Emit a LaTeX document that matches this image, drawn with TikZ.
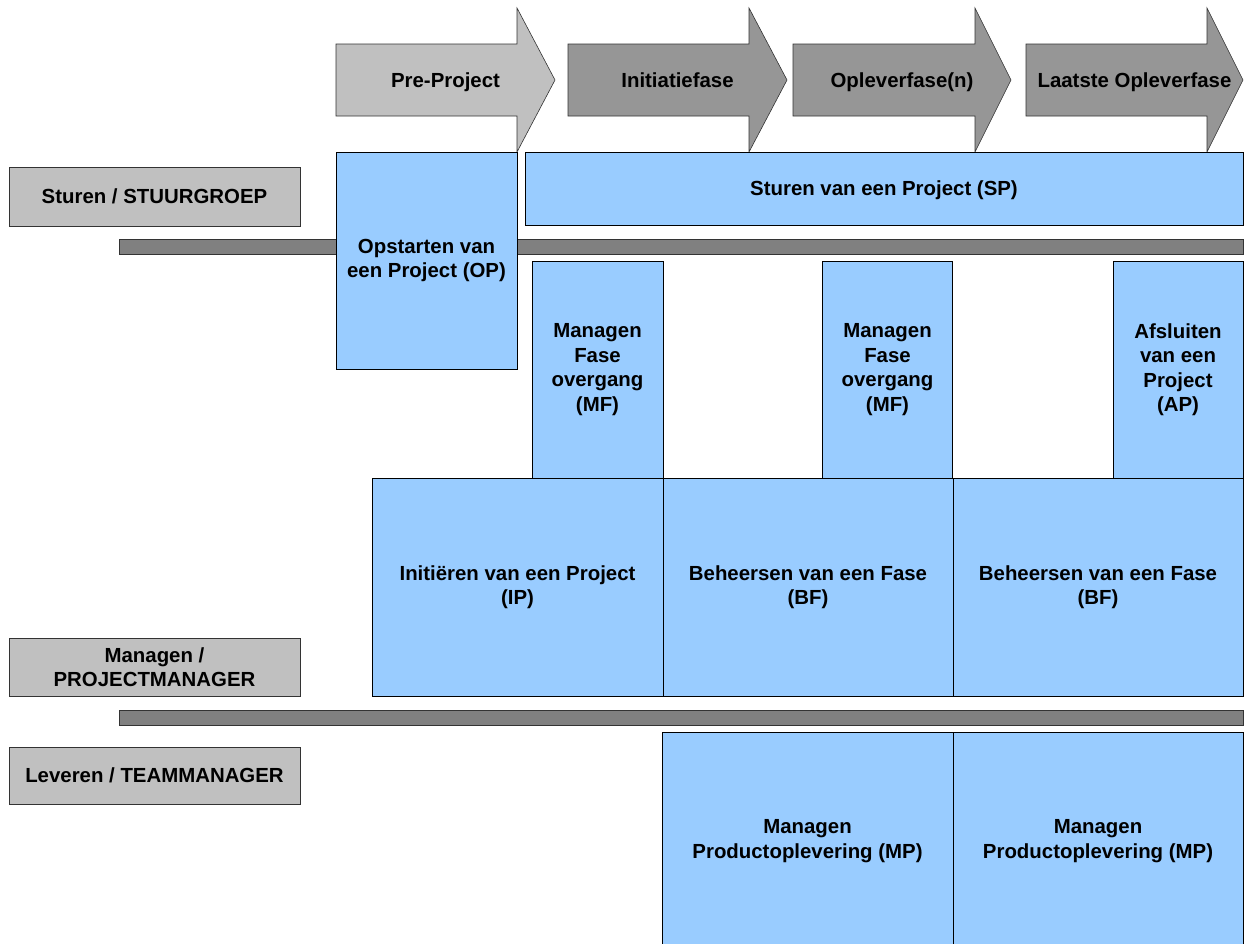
\documentclass[tikz,border=0pt]{standalone}
\usepackage{fontspec}
\setmainfont{Liberation Sans}
\definecolor{pblue}{HTML}{99CCFF}
\definecolor{lgray}{HTML}{C0C0C0}
\definecolor{dgray}{HTML}{969696}
\definecolor{bargray}{HTML}{808080}
\begin{document}
\begin{tikzpicture}[x=1pt,y=-1pt,
  txt/.style={font=\fontsize{20.4}{24.5}\selectfont\bfseries, align=center, inner sep=0pt},
  oneline/.style={text height=14.7pt, text depth=0pt},
  pbox/.style={draw=black, line width=0.6pt, fill=pblue, inner sep=0pt, txt},
  rolebox/.style={draw=black!80, line width=0.6pt, fill=lgray, inner sep=0pt, txt},
  barbox/.style={draw=black!80, line width=0.6pt, fill=bargray, inner sep=0pt},
  arr/.style={draw=black!80, line width=0.6pt}]
\useasboundingbox (0,0) rectangle (1244,943);
% phase arrows
\filldraw[arr, fill=lgray] (336,44) -- (517,44) -- (517,8) -- (555,80) -- (517,152) -- (517,116) -- (336,116) -- cycle;
\filldraw[arr, fill=dgray] (568,44) -- (749,44) -- (749,8) -- (787,80) -- (749,152) -- (749,116) -- (568,116) -- cycle;
\filldraw[arr, fill=dgray] (793,44) -- (975,44) -- (975,8) -- (1011,80) -- (975,152) -- (975,116) -- (793,116) -- cycle;
\filldraw[arr, fill=dgray] (1026,44) -- (1207,44) -- (1207,8) -- (1243,80) -- (1207,152) -- (1207,116) -- (1026,116) -- cycle;
\node[txt, oneline] (a1) at (445.5,80) {Pre-Project};
\node[txt, oneline] (a2) at (677.5,80) {Initiatiefase};
\node[txt, oneline] (a3) at (902,80) {Opleverfase(n)};
\node[txt, oneline] (a4) at (1134.5,80) {Laatste Opleverfase};
% bars
\node[barbox, minimum width=1124, minimum height=15] (bar1) at (681,246.5) {};
\node[barbox, minimum width=1124, minimum height=15] (bar2) at (681,717.5) {};
% role boxes
\node[rolebox, minimum width=291, minimum height=59] (r1) at (154.5,196.5) {Sturen / STUURGROEP};
\node[rolebox, minimum width=291, minimum height=58] (r2) at (154.5,667) {Managen /\\PROJECTMANAGER};
\node[rolebox, minimum width=291, minimum height=57] (r3) at (154.5,775.5) {Leveren / TEAMMANAGER};
% process boxes
\node[pbox, oneline, minimum width=718, minimum height=73] (sp) at (884,188.5) {Sturen van een Project (SP)};
\node[pbox, minimum width=181, minimum height=217] (op) at (426.5,260.5) {Opstarten van\\een Project (OP)};
\node[pbox, minimum width=131, minimum height=217] (mf1) at (597.5,369.5) {Managen\\Fase\\overgang\\(MF)};
\node[pbox, minimum width=130, minimum height=217] (mf2) at (887.5,369.5) {Managen\\Fase\\overgang\\(MF)};
\node[pbox, minimum width=130, minimum height=217] (ap) at (1178,369.5) {Afsluiten\\van een\\Project\\(AP)};
\node[pbox, minimum width=291, minimum height=218] (ip) at (517.5,587) {Initiëren van een Project\\(IP)};
\node[pbox, minimum width=290, minimum height=218] (bf1) at (808,587) {Beheersen van een Fase\\(BF)};
\node[pbox, minimum width=290, minimum height=218] (bf2) at (1098,587) {Beheersen van een Fase\\(BF)};
\node[pbox, minimum width=291, minimum height=218] (mp1) at (807.5,841) {Managen\\Productoplevering (MP)};
\node[pbox, minimum width=290, minimum height=218] (mp2) at (1098,841) {Managen\\Productoplevering (MP)};
\end{tikzpicture}
\end{document}
